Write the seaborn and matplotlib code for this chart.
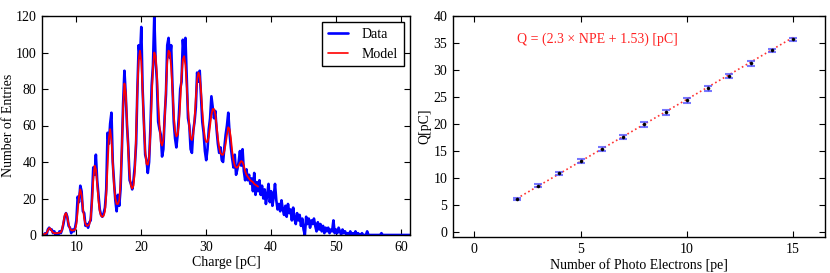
import numpy as np
import pandas as pd
import matplotlib
matplotlib.use("Agg")
import matplotlib.pyplot as plt
import seaborn as sns

# ---------------- data ----------------
# Left panel: charge histogram (bin centres start at 5.0 pC, 0.2 pC apart)
charge_start = 5.0
charge_step = 0.2
data_counts = [
    0, 1, 0, 3, 4, 3, 3, 1, 2, 0,          # 5.0 - 6.8
    1, 0, 2, 1, 3, 6, 10, 12, 10, 5,       # 7.0 - 8.8
    4, 1, 3, 2, 4, 8, 21, 18, 27, 24,      # 9.0 - 10.8
    13, 12, 5, 6, 4, 7, 8, 20, 37, 33,     # 11.0 - 12.8
    44, 30, 22, 14, 11, 10, 12, 15, 25, 56,  # 13.0 - 14.8
    50, 61, 67, 40, 29, 19, 13, 22, 16, 25,  # 15.0 - 16.8
    46, 72, 90, 77, 60, 48, 30, 28, 25, 30,  # 17.0 - 18.8
    38, 50, 80, 104, 97, 114, 80, 62, 44, 41,  # 19.0 - 20.8
    34, 40, 58, 82, 93, 120, 96, 85, 62, 58,   # 21.0 - 22.8
    55, 43, 47, 65, 77, 104, 108, 97, 104, 82,  # 23.0 - 24.8
    62, 53, 48, 55, 66, 80, 84, 107, 98, 108,   # 25.0 - 26.8
    86, 64, 60, 47, 45, 57, 62, 70, 89, 84,     # 27.0 - 28.8
    90, 76, 62, 56, 46, 41, 47, 58, 64, 76,     # 29.0 - 30.8
    70, 64, 68, 58, 50, 45, 48, 41, 40, 48,     # 31.0 - 32.8
    55, 60, 67, 56, 48, 42, 37, 44, 33, 36,     # 33.0 - 34.8
    40, 46, 38, 47, 35, 30, 36, 30, 33, 28,     # 35.0 - 36.8
    31, 24, 34, 22, 29, 24, 30, 22, 27, 20,     # 37.0 - 38.8
    25, 17, 22, 28, 18, 24, 16, 21, 28, 19,     # 39.0 - 40.8
    14, 17, 13, 19, 14, 11, 16, 10, 17, 12,     # 41.0 - 42.8
    14, 8, 15, 9, 6, 12, 8, 11, 5, 9,           # 43.0 - 44.8
    3, 0, 10, 6, 9, 4, 8, 6, 9, 5,              # 45.0 - 46.8
    2, 7, 3, 6, 2, 5, 1, 4, 2, 4,               # 47.0 - 48.8
    1, 3, 2, 8, 1, 3, 1, 4, 2, 0,               # 49.0 - 50.8
    3, 1, 2, 0, 1, 0, 2, 0, 1, 0,               # 51.0 - 52.8
    2, 0, 1, 0, 0, 1, 0, 0, 0, 2,               # 53.0 - 54.8
    0, 0, 0, 0, 0, 0, 0, 0, 0, 0,               # 55.0 - 56.8
    1, 0, 0, 0, 0, 0, 0, 0, 0, 0,               # 57.0 - 58.8
    0, 0, 0, 0, 0, 0, 0, 0, 0, 0,               # 59.0 - 60.8
    0, 0, 0,                                    # 61.0 - 61.4
]
model_counts = [
    0.5, 0.6, 1.0, 2.5, 3.8, 3.5, 2.2, 1.3, 1.0, 1.0,    # 5.0 - 6.8
    1.0, 1.1, 1.2, 1.5, 3, 7, 11, 12, 9.5, 6,             # 7.0 - 8.8
    3.5, 2.6, 2.5, 2.6, 3, 6, 13, 21, 25, 22,             # 9.0 - 10.8
    15, 9, 6, 5, 5.2, 6, 9, 18, 30, 38,                   # 11.0 - 12.8
    36, 28, 19, 13, 10.5, 10, 10.5, 13, 22, 38,           # 13.0 - 14.8
    53, 58, 52, 39, 27, 20, 17, 17, 19, 28,               # 15.0 - 16.8
    48, 70, 83, 78, 62, 45, 33, 27, 25.5, 27,             # 17.0 - 18.8
    35, 55, 80, 96, 101, 95, 79, 60, 46, 39,              # 19.0 - 20.8
    38.5, 42, 55, 75, 92, 100, 98, 88, 73, 60,            # 21.0 - 22.8
    51, 49, 52, 63, 80, 95, 101, 100, 92, 80,             # 23.0 - 24.8
    66, 57, 54, 55, 61, 73, 87, 96, 98, 93,               # 25.0 - 26.8
    82, 69, 59, 53, 52, 55, 63, 75, 85, 89,               # 27.0 - 28.8
    87, 79, 68, 59, 53, 51, 51, 54, 60, 66,               # 29.0 - 30.8
    69, 69, 66, 60, 53, 48, 45, 44, 44, 46,               # 31.0 - 32.8
    50, 55, 59, 58, 53, 46, 41, 38, 37, 37,               # 33.0 - 34.8
    38, 39.5, 40.5, 40, 38, 35, 33, 32, 31, 30,           # 35.0 - 36.8
    29.5, 29, 28, 27.5, 27, 26.5,                         # 37.0 - 38.0
]

# Right panel: charge vs number of photo electrons
npe = [2, 3, 4, 5, 6, 7, 8, 9, 10, 11, 12, 13, 14, 15]
q_pc = [6.05, 8.55, 10.8, 13.1, 15.35, 17.6, 19.9, 22.15, 24.4, 26.6, 28.9, 31.2, 33.6, 35.7]
q_err = [0.15, 0.2, 0.3, 0.3, 0.35, 0.35, 0.4, 0.45, 0.45, 0.45, 0.4, 0.5, 0.35, 0.3]
fit_slope = 2.3
fit_intercept = 1.53
fit_label = "Q = (2.3 \u00d7 NPE + 1.53) [pC]"

# ---------------- plotting ----------------
sns.set_style("ticks")
plt.rcParams["font.family"] = ["Liberation Serif", "DejaVu Serif"]
plt.rcParams["font.size"] = 10
plt.rcParams["xtick.direction"] = "in"
plt.rcParams["ytick.direction"] = "in"
plt.rcParams["xtick.top"] = True
plt.rcParams["ytick.right"] = True
plt.rcParams["xtick.major.size"] = 4
plt.rcParams["ytick.major.size"] = 4
plt.rcParams["axes.edgecolor"] = "black"
plt.rcParams["axes.linewidth"] = 1.0
plt.rcParams["xtick.color"] = "black"
plt.rcParams["ytick.color"] = "black"
plt.rcParams["text.color"] = "black"
plt.rcParams["axes.labelcolor"] = "black"

fig = plt.figure(figsize=(8.3, 2.73), dpi=100)
ax1 = fig.add_axes([42 / 830, 1 - 235 / 273, (410 - 42) / 830, (235 - 16) / 273])
ax2 = fig.add_axes([453 / 830, 1 - 237 / 273, (825 - 453) / 830, (237 - 16) / 273])

df_data = pd.DataFrame({
    "charge": np.round(charge_start + charge_step * np.arange(len(data_counts)), 2),
    "count": data_counts,
})
df_model = pd.DataFrame({
    "charge": np.round(charge_start + charge_step * np.arange(len(model_counts)), 2),
    "count": model_counts,
})

sns.lineplot(data=df_data, x="charge", y="count", ax=ax1, color="#0000ff",
             linewidth=1.9, estimator=None, label="Data")
sns.lineplot(data=df_model, x="charge", y="count", ax=ax1, color="#ff0000",
             linewidth=1.3, estimator=None, label="Model")
ax1.set_xlim(4.7, 61.4)
ax1.set_ylim(0, 120)
ax1.set_xticks([10, 20, 30, 40, 50, 60])
ax1.set_yticks([0, 20, 40, 60, 80, 100, 120])
ax1.set_xlabel("Charge [pC]", labelpad=2)
ax1.set_ylabel("Number of Entries")
ax1.yaxis.set_label_coords(-0.074, 0.5)
leg = ax1.legend(loc="upper right", frameon=True, fancybox=False, framealpha=1,
                 edgecolor="black", handlelength=1.45, handletextpad=1.0,
                 borderpad=0.4, labelspacing=0.5, borderaxespad=0.45)
leg.get_frame().set_linewidth(1.0)
leg.get_lines()[0].set_linewidth(1.9)
leg.get_lines()[1].set_linewidth(1.2)

df_q = pd.DataFrame({"npe": npe, "q": q_pc, "err": q_err})
fit_vals = [fit_slope * n + fit_intercept for n in (npe[0], npe[-1])]
df_fit = pd.DataFrame({"npe": [npe[0], npe[-1]], "q": fit_vals})
sns.lineplot(data=df_fit, x="npe", y="q", ax=ax2, color="#ff3333",
             linestyle=":", linewidth=1.2, estimator=None)
ax2.errorbar(df_q["npe"], df_q["q"], yerr=df_q["err"], fmt="none",
             ecolor="#5555ff", elinewidth=1.0, capsize=3, capthick=1.5, alpha=0.8)
sns.scatterplot(data=df_q, x="npe", y="q", ax=ax2, color="black", s=5,
                marker="o", edgecolor="black", linewidth=0.3, zorder=5)
ax2.text(2.0, 35.7, fit_label, color="#ff2222", fontsize=10, va="center", ha="left")
ax2.set_xlim(-1, 16.5)
ax2.set_ylim(-1, 40)
ax2.set_xticks([0, 5, 10, 15])
ax2.set_yticks([0, 5, 10, 15, 20, 25, 30, 35, 40])
ax2.set_xlabel("Number of Photo Electrons [pe]", labelpad=2)
ax2.set_ylabel("Q[pC]")
ax2.yaxis.set_label_coords(-0.058, 0.5)

for ax in (ax1, ax2):
    for s in ax.spines.values():
        s.set_visible(True)
        s.set_color("black")
    ax.tick_params(which="both", direction="in", top=True, right=True, length=4,
                   labelsize=10, pad=4)

fig.savefig("out.png", dpi=100)
